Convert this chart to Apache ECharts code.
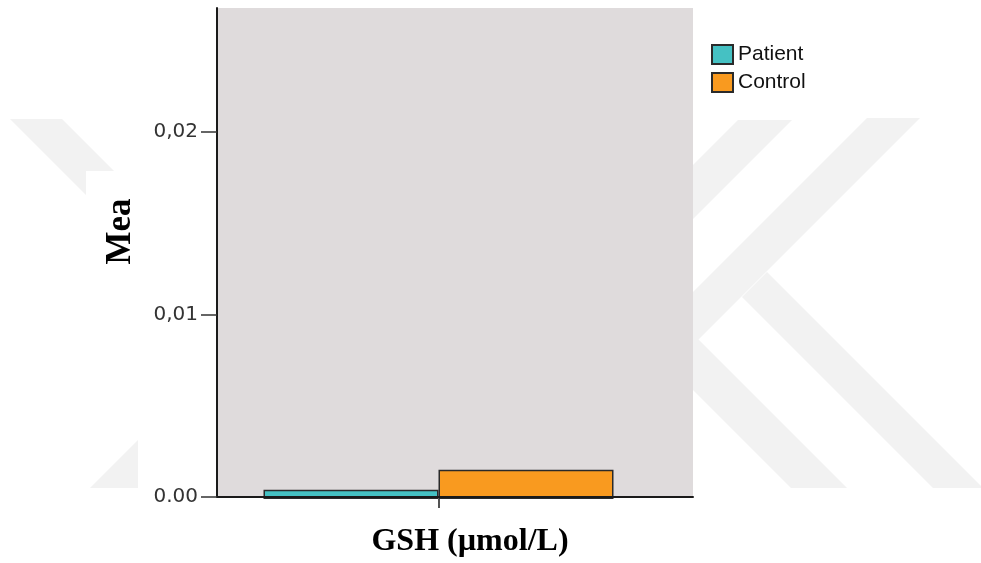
<!DOCTYPE html>
<html>
<head>
<meta charset="utf-8">
<script src="https://cdn.jsdelivr.net/npm/echarts@6/dist/echarts.min.js"></script>
<style>html,body{margin:0;padding:0;background:#fff}#c{width:981px;height:563px}</style>
</head>
<body>
<div id="c"></div>
<script>
const categories = ['GSH (µmol/L)'];
const seriesNames = ['Patient', 'Control'];
const patientValues = [0.0005];
const controlValues = [0.0016];
const yTicks = [0, 0.01, 0.02];
const yMax = 0.0268;

const chart = echarts.init(document.getElementById('c'));
const wm = '#f2f2f2';
const barBorder = { borderColor: '#2a2a2a', borderWidth: 1.5 };

chart.setOption({
  animation: false,
  backgroundColor: '#ffffff',
  graphic: [
    { type: 'polygon', z: -10, silent: true, shape: { points: [[10,119],[62,119],[114,171],[86,171],[86,195]] }, style: { fill: wm } },
    { type: 'polygon', z: -10, silent: true, shape: { points: [[138,440],[138,488],[90,488]] }, style: { fill: wm } },
    { type: 'polygon', z: -10, silent: true, shape: { points: [[738,120],[792,120],[690,222],[690,168]] }, style: { fill: wm } },
    { type: 'polygon', z: -10, silent: true, shape: { points: [[867,118],[920,118],[690,348],[690,295]] }, style: { fill: wm } },
    { type: 'polygon', z: -10, silent: true, shape: { points: [[767,272],[983,488],[933,488],[742,297]] }, style: { fill: wm } },
    { type: 'polygon', z: -10, silent: true, shape: { points: [[690,331],[847,488],[791,488],[690,387]] }, style: { fill: wm } }
  ],
  legend: {
    orient: 'vertical',
    left: 706,
    top: 39,
    itemWidth: 21,
    itemHeight: 19,
    itemGap: 7,
    icon: 'rect',
    data: seriesNames,
    textStyle: { fontFamily: 'Liberation Sans', fontSize: 21, color: '#111' }
  },
  grid: [
    { left: 217, right: 288, top: 8, bottom: 64, show: true, backgroundColor: '#dfdbdc', borderWidth: 0, containLabel: false },
    { left: 217, right: 321, top: 8, bottom: 64, show: false, containLabel: false }
  ],
  xAxis: [
    {
      gridIndex: 0, type: 'category', data: categories, z: 10,
      axisLine: { show: true, lineStyle: { color: '#1a1a1a', width: 2 } },
      axisTick: { show: false }, axisLabel: { show: false },
      name: categories[0], nameLocation: 'middle', nameGap: 29,
      nameTextStyle: { fontFamily: 'Liberation Serif', fontWeight: 'bold', fontSize: 32, color: '#000', padding: [0, 0, 0, 30] }
    },
    {
      gridIndex: 1, type: 'category', data: categories, z: 10,
      axisLine: { show: false },
      axisTick: { show: true, alignWithLabel: true, length: 9, lineStyle: { color: '#1a1a1a', width: 1.5 } },
      axisLabel: { show: false }
    }
  ],
  yAxis: [
    {
      gridIndex: 0, type: 'value', min: 0, max: yMax, interval: 0.01, z: 10,
      splitLine: { show: false },
      axisLine: { show: true, lineStyle: { color: '#1a1a1a', width: 2 } },
      axisTick: { show: true, length: 16, customValues: yTicks, lineStyle: { color: '#333', width: 1.5 } },
      axisLabel: {
        customValues: yTicks, margin: 19,
        fontFamily: 'DejaVu Sans', fontSize: 20, color: '#333',
        formatter: v => v === 0 ? '0.00' : v.toFixed(2).replace('.', ',')
      },
      name: 'Mea', nameLocation: 'middle', nameGap: 79,
      nameTextStyle: { fontFamily: 'Liberation Serif', fontWeight: 'bold', fontSize: 35, color: '#000', padding: [0, 0, 0, 42] }
    },
    { gridIndex: 1, type: 'value', min: 0, max: yMax, show: false, splitLine: { show: false } }
  ],
  series: [
    {
      name: seriesNames[0], type: 'bar', xAxisIndex: 1, yAxisIndex: 1,
      data: patientValues, barWidth: 175, barGap: '0%',
      itemStyle: Object.assign({ color: '#45c1c3' }, barBorder)
    },
    {
      name: seriesNames[1], type: 'bar', xAxisIndex: 1, yAxisIndex: 1,
      data: controlValues, barWidth: 175, barGap: '0%',
      itemStyle: Object.assign({ color: '#f99a1f' }, barBorder)
    }
  ]
});
</script>
</body>
</html>
